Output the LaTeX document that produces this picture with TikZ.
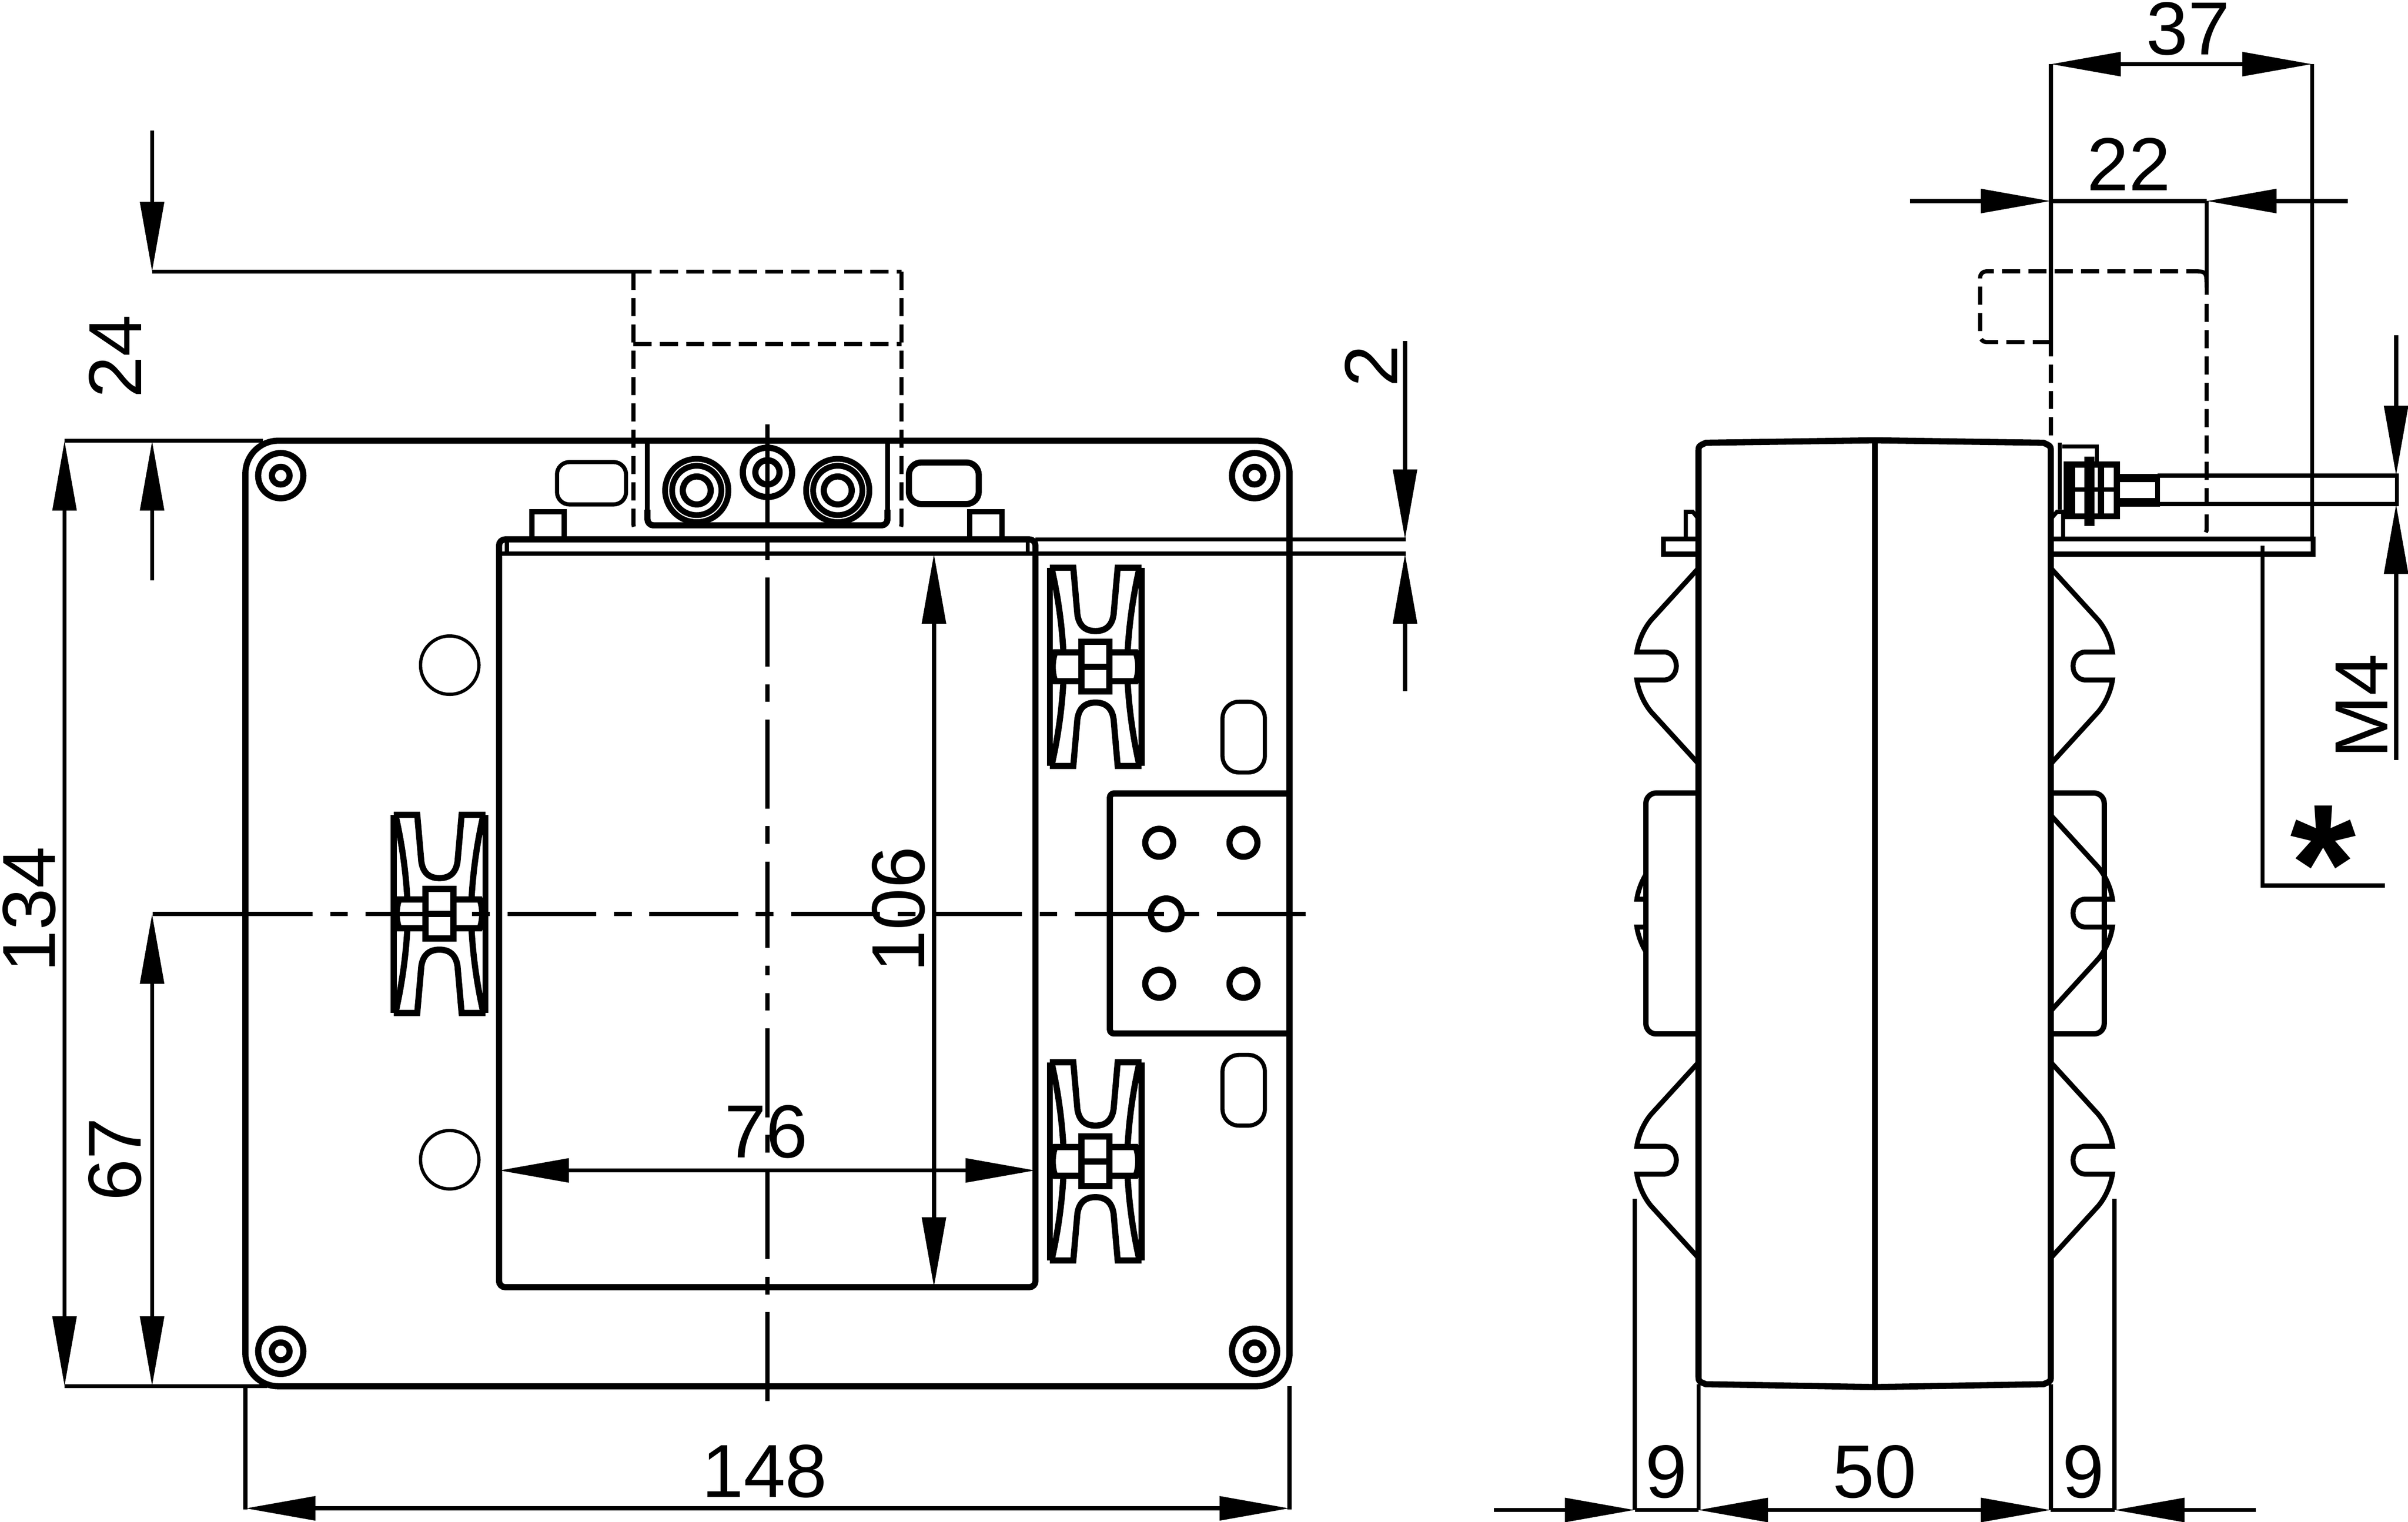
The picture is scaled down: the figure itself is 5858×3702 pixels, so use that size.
\documentclass[tikz,border=0pt]{standalone}
\usepackage{fontspec}
\setmainfont{Liberation Sans}
\usetikzlibrary{arrows.meta}

\tikzset{
    thk/.style={line width=0.15cm},
    thn/.style={line width=0.1cm},
    hid/.style={line width=0.1cm, dash pattern=on 0.44cm off 0.2cm},
    chain/.style={line width=0.11cm, dash pattern=on 2.16cm off 0.43cm on 0.43cm off 0.43cm},
    dim/.style={line width=0.1cm, <->},
    lbl/.style={inner sep=0pt, font=\fontsize{52}{60}\selectfont},
    pics/hclamp/.style={code={
        \draw[thk] (-111,-241) -- (-111,241);
        \draw[thk] (112,-241) -- (112,241);
        \foreach \s in {1,-1} {
            \draw[thk] (-111,-241*\s) -- (-54,-241*\s) -- (-44,-127*\s)
                .. controls (-40,-100*\s) and (-25,-87*\s) .. (0,-87*\s)
                .. controls (25,-87*\s) and (40,-100*\s) .. (44,-127*\s)
                -- (54,-241*\s) -- (112,-241*\s);
            \draw[thk] (-107,-241*\s) .. controls (-93,-180*\s) and (-82,-110*\s) .. (-78,-35*\s);
            \draw[thk] (107,-241*\s) .. controls (93,-180*\s) and (82,-110*\s) .. (78,-35*\s);
            \draw[thk] (-34*\s,-35) -- (-98*\s,-35) .. controls (-106*\s,-15) and (-106*\s,15) .. (-98*\s,35) -- (-34*\s,35);
        }
        \draw[thk] (-34,-61) rectangle (34,60);
        \draw[thk] (-34,0) -- (34,0);
    }},
    pics/sidebump/.style={code={
        \draw[line width=0.12cm] (0,-238) -- (115,-112) .. controls (132,-92) and (146,-62) .. (150,-34)
            -- (84,-34) .. controls (66,-34) and (54,-18) .. (54,0) .. controls (54,18) and (66,34) .. (84,34)
            -- (150,34) .. controls (146,62) and (132,92) .. (115,112) -- (0,238);
    }},
}

\begin{document}
\begin{tikzpicture}[x=0.01cm, y=-0.01cm, >={Triangle[length=1.7cm,width=0.57cm]}]
    \useasboundingbox (0,0) rectangle (5858,3702);

    % front view
    \coordinate (plTL) at (597,1072);
    \coordinate (plBR) at (3137,3372);
    \coordinate (wnTL) at (1214,1312);
    \coordinate (wnBR) at (2519,3131);

    \draw[thk, rounded corners=0.8cm] (plTL) rectangle (plBR);
    \draw[thk, rounded corners=0.15cm] (wnTL) rectangle (wnBR);
    \draw[line width=0.11cm] (1214,1347) -- (2519,1347);
    \draw[thn] (1233,1312) -- (1233,1347);
    \draw[thn] (2500,1312) -- (2500,1347);
    \draw[thn] (2519,1312) -- (3420,1312);
    \draw[thn] (2519,1347) -- (3420,1347);

    \foreach \x/\y in {683/1157, 3052/1157, 683/3287, 3052/3287} {
        \draw[thk] (\x,\y) circle (55);
        \draw[thk] (\x,\y) circle (21.5);
    }
    \foreach \y in {1618, 2821}
        \draw[line width=0.08cm] (1094,\y) circle (71);

    % terminal block
    \draw[line width=0.12cm] (1575,1072) -- (1575,1266);
    \draw[line width=0.12cm] (2159,1072) -- (2159,1266);
    \draw[thk, rounded corners=0.15cm] (1575,1240) -- (1575,1278) -- (2159,1278) -- (2159,1240);
    \foreach \x in {1695,2038} {
        \draw[line width=0.14cm] (\x,1193) circle (77);
        \draw[line width=0.14cm] (\x,1193) circle (60);
        \draw[thk] (\x,1193) circle (34);
    }
    \draw[thk] (1867,1149) circle (60);
    \draw[thk] (1867,1149) circle (29.5);
    \draw[thn, rounded corners=0.3cm] (1355,1124) rectangle (1523,1227);
    \draw[thk, rounded corners=0.3cm] (2211,1125) rectangle (2381,1226);
    \draw[line width=0.13cm] (1294,1245) rectangle (1372,1312);
    \draw[line width=0.13cm] (2359,1245) rectangle (2437,1312);

    \pic at (2665,1622) {hclamp};
    \pic at (2665,2825) {hclamp};
    \pic at (1069,2223) {hclamp};
    \draw[thn, rounded corners=0.4cm] (2974,1707) rectangle (3077,1879);
    \draw[thn, rounded corners=0.4cm] (2974,2566) rectangle (3077,2738);

    % bracket
    \draw[thk, rounded corners=0.1cm] (3137,1930) -- (2700,1930) -- (2700,2514) -- (3137,2514);
    \foreach \x/\y in {2820/2050, 3025/2050, 2820/2393, 3025/2393}
        \draw[thk] (\x,\y) circle (34);
    \draw[thk] (2837,2223) circle (37.5);

    % hidden outline and centre lines
    \draw[hid] (1541,661) -- (2193,661);
    \draw[hid] (1541,837) -- (2193,837);
    \draw[hid] (1541,661) -- (1541,1270) .. controls (1541,1280) .. (1547,1295);
    \draw[hid] (2193,661) -- (2193,1270) .. controls (2193,1280) .. (2187,1295);
    \draw[line width=0.11cm] (1867,1032) -- (1867,1060);
    \draw[chain] (1867,1060) -- (1867,2306);
    \draw[chain] (1867,3408) -- (1867,2349);
    \draw[line width=0.11cm] (371,2223) -- (544,2223);
    \draw[chain] (544,2223) -- (3176,2223);

    % side view
    \coordinate (bdL) at (4132,1100);
    \coordinate (bdR) at (4989,1100);
    \draw[thk] (bdL) .. controls (4132,1085) .. (4150,1077) -- (4561,1071) -- (4971,1077)
        .. controls (4989,1085) .. (bdR) -- (4989,3345) .. controls (4989,3360) .. (4971,3367)
        -- (4561,3374) -- (4150,3367) .. controls (4132,3360) .. (4132,3345) -- cycle;
    \draw[thk] (4561,1071) -- (4561,3374);

    \foreach \y in {1620,2822} {
        \pic[xscale=-1] at (4132,\y) {sidebump};
        \pic at (4989,\y) {sidebump};
    }
    \pic at (4989,2221) {sidebump};
    \begin{scope}
        \clip (3900,2000) rectangle (4004,2450);
        \pic[xscale=-1] at (4132,2221) {sidebump};
    \end{scope}
    \draw[line width=0.13cm, rounded corners=0.25cm] (4132,1929) -- (4004,1929) -- (4004,2515) -- (4132,2515);
    \draw[line width=0.13cm, rounded corners=0.25cm] (4989,1929) -- (5119,1929) -- (5119,2515) -- (4989,2515);

    % mounting foot
    \draw[line width=0.12cm] (4989,1311) -- (5627,1311) -- (5627,1348) -- (4989,1348);
    \draw[line width=0.12cm] (4132,1311) -- (4047,1311) -- (4047,1348) -- (4132,1348);
    \draw[thn] (4101,1311) -- (4101,1245) -- (4118,1245) -- (4132,1262);
    \draw[thn] (4989,1262) -- (5004,1245) -- (5019,1245) -- (5019,1311);

    % nut and stud
    \draw[thn] (5011,1077) -- (5011,1240);
    \draw[thn] (5017,1086) -- (5101,1086) -- (5101,1130);
    \draw[thk] (5028,1130) rectangle (5150,1256);
    \draw[thk] (5041,1130) -- (5041,1256);
    \draw[thk] (5111,1130) -- (5111,1256);
    \draw[thn] (5028,1191) -- (5150,1191);
    \draw[line width=0.25cm] (5083,1111) -- (5083,1279);
    \draw[line width=0.2cm] (5150,1163) -- (5249,1163);
    \draw[line width=0.22cm] (5150,1222) -- (5249,1222);
    \draw[line width=0.12cm] (5249,1155) -- (5249,1232);
    \draw[thn] (5249,1157) -- (5831,1157) -- (5831,1226) -- (5249,1226);

    \draw[hid, rounded corners=0.15cm] (4989,832) -- (4817,832) -- (4817,660) -- (5334,660);
    \draw[thn] (5334,660) .. controls (5368,660) .. (5368,700);
    \draw[hid] (4989,887) -- (4989,1061);
    \draw[hid] (5368,739) -- (5368,1285) .. controls (5368,1295) .. (5350,1305);

    % dimensions of the front view
    \draw[thn] (370,661) -- (1541,661);
    \draw[thn] (157,1072) -- (640,1072);
    \draw[thn] (157,3372) -- (650,3372);
    \draw[thn] (597,3372) -- (597,3672);
    \draw[thn] (3137,3372) -- (3137,3672);

    \draw[dim] (597,3669) -- (3137,3669);
    \draw[dim] (157,1072) -- (157,3372);
    \draw[dim] (370,2223) -- (370,3372);
    \draw[dim, ->] (370,318) -- (370,661);
    \draw[dim, ->] (370,1412) -- (370,1072);
    \draw[dim] (1214,2847) -- (2519,2847);
    \draw[dim] (2272,1347) -- (2272,3131);
    \draw[dim, ->] (3418,830) -- (3418,1312);
    \draw[dim, ->] (3418,1681) -- (3418,1347);

    \node[lbl] (l148) at (1860,3579) {148};
    \node[lbl, rotate=90] (l134) at (71,2212) {134};
    \node[lbl, rotate=90] (l67) at (280,2820) {67};
    \node[lbl, rotate=90] (l24) at (280,867) {24};
    \node[lbl] (l76) at (1864,2753) {76};
    \node[lbl, rotate=90] (l106) at (2186,2212) {106};
    \node[lbl, rotate=90] (l2) at (3336,890) {2};

    % dimensions of the side view
    \draw[thn] (3977,2916) -- (3977,3673);
    \draw[thn] (5144,2916) -- (5144,3673);
    \draw[thn] (4132,3367) -- (4132,3673);
    \draw[thn] (4989,3367) -- (4989,3673);
    \draw[dim, ->] (3634,3673) -- (3977,3673);
    \draw[line width=0.1cm] (3977,3673) -- (4132,3673);
    \draw[dim] (4131,3673) -- (4989,3673);
    \draw[line width=0.1cm] (4989,3673) -- (5144,3673);
    \draw[dim, ->] (5488,3673) -- (5144,3673);

    \draw[thn] (4989,156) -- (4989,867);
    \draw[thn] (5625,156) -- (5625,1311);
    \draw[thn] (5368,489) -- (5368,717);
    \draw[dim] (4989,156) -- (5625,156);
    \draw[dim, ->] (4646,489) -- (4989,489);
    \draw[line width=0.1cm] (4989,489) -- (5368,489);
    \draw[dim, ->] (5711,489) -- (5368,489);

    \draw[dim, ->] (5829,815) -- (5829,1157);
    \draw[dim, ->] (5829,1849) -- (5829,1226);
    \draw[thn] (5504,1327) -- (5504,2154) -- (5802,2154);

    \node[lbl] (l9a) at (4054,3580) {9};
    \node[lbl] (l50) at (4560,3580) {50};
    \node[lbl] (l9b) at (5068,3580) {9};
    \node[lbl] (l37) at (5323,70) {37};
    \node[lbl] (l22) at (5179,399) {22};
    \node[lbl, rotate=90] (lM4) at (5745,1718) {M4};
    \node[inner sep=0pt, anchor=base, font=\fontsize{117}{117}\selectfont\bfseries] (lStar) at (5652,2243) {*};
\end{tikzpicture}
\end{document}
